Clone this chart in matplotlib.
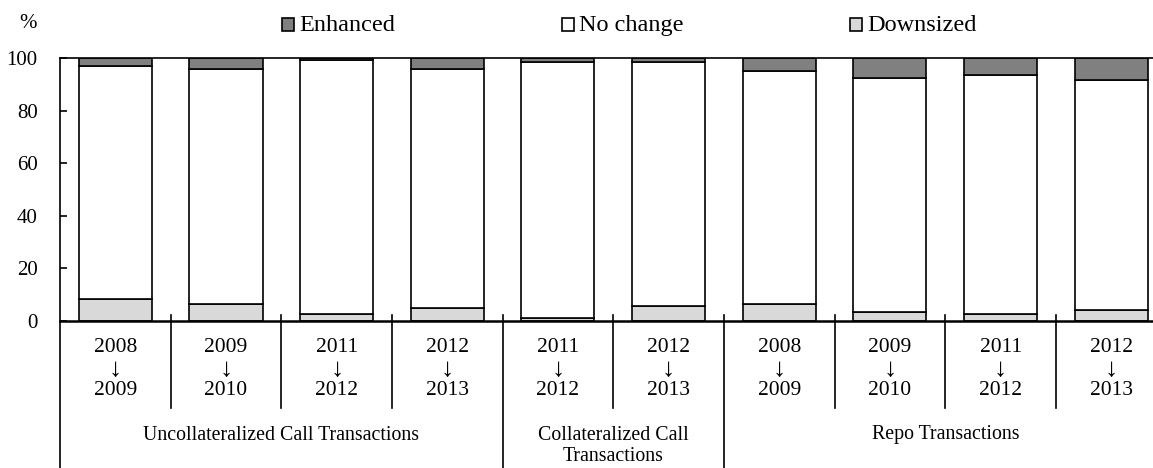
import matplotlib.pyplot as plt
from matplotlib.patches import Rectangle
import numpy as np

plt.rcParams['font.family'] = ['Liberation Serif', 'DejaVu Serif']

# data (%)
year_from = ["2008", "2009", "2011", "2012", "2011", "2012", "2008", "2009", "2011", "2012"]
year_to = ["2009", "2010", "2012", "2013", "2012", "2013", "2009", "2010", "2012", "2013"]
downsized = [8.3, 6.3, 2.7, 4.9, 1.3, 5.7, 6.4, 3.3, 2.7, 4.1]
enhanced = [2.9, 4.3, 0.9, 4.3, 1.5, 1.6, 4.9, 7.7, 6.6, 8.5]
no_change = [100 - d - e for d, e in zip(downsized, enhanced)]

groups = ["Uncollateralized Call Transactions", "Collateralized Call\nTransactions", "Repo Transactions"]
group_sizes = [4, 2, 4]
legend_labels = ["Enhanced", "No change", "Downsized"]

col_enh = '#808080'
col_no = '#ffffff'
col_down = '#d9d9d9'

W, H = 1153, 468
fig = plt.figure(figsize=(W / 100, H / 100), dpi=100)
ax = fig.add_axes([60 / W, 1 - 321 / H, 1 - 60 / W, 263 / H])

x = np.arange(len(year_from))
w = 0.66
kw = dict(width=w, edgecolor='black', linewidth=1.2)
ax.bar(x, downsized, color=col_down, **kw)
ax.bar(x, no_change, bottom=downsized, color=col_no, **kw)
ax.bar(x, enhanced, bottom=np.array(downsized) + np.array(no_change), color=col_enh, **kw)

ax.set_xlim(-0.5, 9.377)
ax.set_ylim(0, 100)
ax.set_yticks(range(0, 101, 20))
ax.tick_params(axis='y', direction='in', length=5, width=1.2, pad=16, labelsize=15)
ax.set_xticks([])
ax.spines['right'].set_visible(False)
ax.spines['left'].set_visible(False)
ax.spines['top'].set_linewidth(1.2)
ax.spines['bottom'].set_linewidth(1.8)

tr = ax.get_xaxis_transform()

# left boundary line running down through the label area
ax.plot([-0.5, -0.5], [1, -0.6], color='black', lw=1.2, transform=tr, clip_on=False)

# separators between categories and groups
bounds = np.cumsum(group_sizes)[:-1] - 0.5
for i in range(len(year_from) - 1):
    xs = i + 0.5
    y_end = -0.6 if xs in bounds else -0.331
    ax.plot([xs, xs], [0.023, y_end], color='black', lw=1.2, transform=tr, clip_on=False)

# period labels: year, arrow, year
for i in range(len(year_from)):
    ax.text(i, -(347.5 - 321) / 263, year_from[i], transform=tr, ha='center', va='center', fontsize=15.5)
    ax.text(i, -(370 - 321) / 263, "↓", transform=tr, ha='center', va='center', fontsize=19)
    ax.text(i, -(390.5 - 321) / 263, year_to[i], transform=tr, ha='center', va='center', fontsize=15.5)

# group labels
start = 0
for g, n in zip(groups, group_sizes):
    cx = start + (n - 1) / 2
    yy = -(446 - 321) / 263 if '\n' in g else -(435 - 321) / 263
    ax.text(cx, yy, g, transform=tr, ha='center', va='center', fontsize=14.3, linespacing=1.15)
    start += n

fig.text(28 / W, 1 - 23 / H, '%', ha='center', va='center', fontsize=15)

# legend, drawn by hand at the reference positions
box_x = [282, 562, 850]
for bx, lab, col in zip(box_x, legend_labels, [col_enh, col_no, col_down]):
    fig.patches.append(Rectangle((bx / W, 1 - 31 / H), 11.5 / W, 13 / H, facecolor=col,
                                 edgecolor='black', lw=1.2, transform=fig.transFigure))
    fig.text((bx + 17) / W, 1 - 31 / H, lab, ha='left', va='baseline', fontsize=17.5)

fig.savefig('out.png', dpi=100)
